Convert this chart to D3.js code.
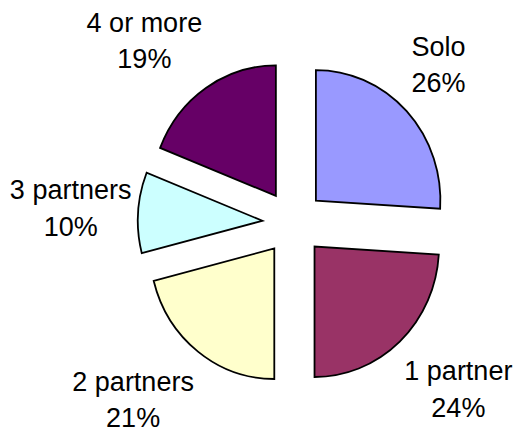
<!DOCTYPE html>
<html>
<head>
<meta charset="utf-8">
<script src="https://cdn.jsdelivr.net/npm/d3@7"></script>
<style>
  html, body { margin: 0; padding: 0; background: #fff; }
  svg { display: block; }
  text { font-family: "Liberation Sans", Arial, sans-serif; fill: #000; }
</style>
</head>
<body>
<svg id="chart" width="526" height="431"></svg>
<script>
// Share of respondents by number of partners
const categories = ["Solo", "1 partner", "2 partners", "3 partners", "4 or more"];
const percentages = [26, 24, 21, 10, 19];
const colors = ["#9999FF", "#993366", "#FFFFCC", "#CCFFFF", "#660066"];

const width = 526, height = 431;
const cx = 293.3, cy = 222.8;     // pie centre
const radius = 130.5;             // outer radius
const explode = 32.5;             // distance each slice is pulled out
const squeeze = 0.954;            // horizontal scale of the pie
const fontSize = 27, lineGap = 36.5;

const svg = d3.select("#chart");

const pie = d3.pie().sort(null).value(d => d.value);
const arcs = pie(categories.map((c, i) => ({ name: c, value: percentages[i], color: colors[i] })));
const arc = d3.arc().innerRadius(0).outerRadius(radius);

const g = svg.append("g")
  .attr("transform", `translate(${cx},${cy}) scale(${squeeze},1)`);

g.selectAll("path")
  .data(arcs)
  .join("path")
  .attr("transform", d => {
    const a = (d.startAngle + d.endAngle) / 2;
    return `translate(${Math.sin(a) * explode},${-Math.cos(a) * explode})`;
  })
  .attr("d", arc)
  .attr("fill", d => d.data.color)
  .attr("stroke", "#000")
  .attr("stroke-width", 1.8)
  .attr("stroke-linejoin", "miter")
  .attr("vector-effect", "non-scaling-stroke");

// Two-line labels placed outside the exploded slices
const labelR = 170;
const clamp = v => Math.max(-1, Math.min(1, v));
const labels = svg.append("g");

arcs.forEach(d => {
  const a = (d.startAngle + d.endAngle) / 2;
  const dx = Math.sin(a), dy = -Math.cos(a);
  const t = labels.append("text")
    .attr("text-anchor", "middle")
    .attr("font-size", fontSize);
  t.append("tspan").attr("x", 0).attr("y", 0).text(d.data.name);
  t.append("tspan").attr("x", 0).attr("y", lineGap).text(d.data.value + "%");
  const bb = t.node().getBBox();
  const w = bb.width;
  const hh = 42;
  const px = cx + dx * labelR * squeeze + clamp(dx / 0.3) * w / 2;
  const py = cy + dy * labelR + clamp(dy / 0.6) * hh;
  // centre the two-line block on (px, py)
  const blockMid = (-fontSize * 0.72 + lineGap) / 2;
  t.attr("transform", `translate(${px},${py - blockMid})`);
});
</script>
</body>
</html>
